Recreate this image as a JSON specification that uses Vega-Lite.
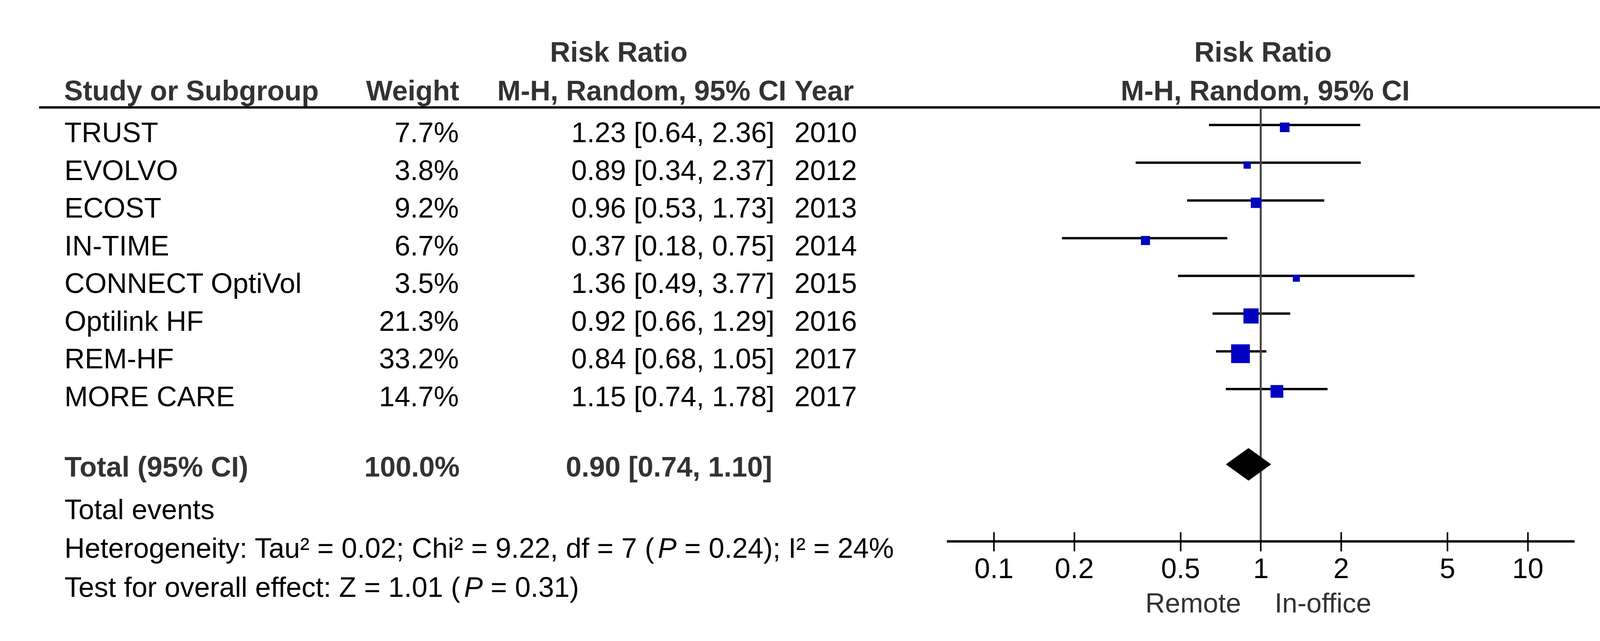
{
  "$schema": "https://vega.github.io/schema/vega-lite/v6.json",
  "padding": 0,
  "background": "white",
  "spacing": 0,
  "bounds": "flush",
  "config": {"view": {"stroke": null}, "font": "Liberation Sans", "text": {"font": "Liberation Sans"}},
  "datasets": {
    "studies": [
      {"study": "TRUST", "weight": 0.077, "rr": 1.23, "lo": 0.64, "hi": 2.36, "ci": "1.23 [0.64, 2.36]", "year": 2010},
      {"study": "EVOLVO", "weight": 0.038, "rr": 0.89, "lo": 0.34, "hi": 2.37, "ci": "0.89 [0.34, 2.37]", "year": 2012},
      {"study": "ECOST", "weight": 0.092, "rr": 0.96, "lo": 0.53, "hi": 1.73, "ci": "0.96 [0.53, 1.73]", "year": 2013},
      {"study": "IN-TIME", "weight": 0.067, "rr": 0.37, "lo": 0.18, "hi": 0.75, "ci": "0.37 [0.18, 0.75]", "year": 2014},
      {"study": "CONNECT OptiVol", "weight": 0.035, "rr": 1.36, "lo": 0.49, "hi": 3.77, "ci": "1.36 [0.49, 3.77]", "year": 2015},
      {"study": "Optilink HF", "weight": 0.213, "rr": 0.92, "lo": 0.66, "hi": 1.29, "ci": "0.92 [0.66, 1.29]", "year": 2016},
      {"study": "REM-HF", "weight": 0.332, "rr": 0.84, "lo": 0.68, "hi": 1.05, "ci": "0.84 [0.68, 1.05]", "year": 2017},
      {"study": "MORE CARE", "weight": 0.147, "rr": 1.15, "lo": 0.74, "hi": 1.78, "ci": "1.15 [0.74, 1.78]", "year": 2017}
    ],
    "total": [
      {"label": "Total (95% CI)", "weight": 1.0, "rr": 0.90, "lo": 0.74, "hi": 1.10, "ci": "0.90 [0.74, 1.10]"}
    ]
  },
  "hconcat": [
    {
      "width": 2424,
      "height": 1386,
      "resolve": {"scale": {"y": "independent"}},
      "layer": [
        {
          "data": {"values": [{}]},
          "mark": {"type": "rule", "color": "black", "strokeWidth": 6},
          "encoding": {
            "x": {"datum": 4.13, "type": "quantitative", "scale": {"domain": [0, 100], "nice": false, "zero": false}, "axis": null},
            "x2": {"datum": 100},
            "y": {"datum": 0.061, "type": "quantitative", "scale": {"domain": [-2.777, 11.526], "reverse": true, "nice": false, "zero": false}, "axis": null}
          }
        },
        {
          "data": {"values": [{}]},
          "mark": {"type": "text", "text": "Risk Ratio", "fontSize": 72, "fontWeight": "bold", "color": "#333333", "align": "center", "baseline": "alphabetic"},
          "encoding": {
            "x": {"datum": 65.35, "type": "quantitative", "scale": {"domain": [0, 100], "nice": false, "zero": false}, "axis": null},
            "y": {"datum": -1.147, "type": "quantitative", "scale": {"domain": [-2.777, 11.526], "reverse": true, "nice": false, "zero": false}, "axis": null}
          }
        },
        {
          "data": {"values": [{}]},
          "mark": {"type": "text", "text": "Study or Subgroup", "fontSize": 72, "fontWeight": "bold", "color": "#333333", "align": "left", "baseline": "alphabetic"},
          "encoding": {
            "x": {"datum": 6.77, "type": "quantitative", "scale": {"domain": [0, 100], "nice": false, "zero": false}, "axis": null},
            "y": {"datum": -0.125, "type": "quantitative", "scale": {"domain": [-2.777, 11.526], "reverse": true, "nice": false, "zero": false}, "axis": null}
          }
        },
        {
          "data": {"values": [{}]},
          "mark": {"type": "text", "text": "Weight", "fontSize": 72, "fontWeight": "bold", "color": "#333333", "align": "right", "baseline": "alphabetic"},
          "encoding": {
            "x": {"datum": 48.5, "type": "quantitative", "scale": {"domain": [0, 100], "nice": false, "zero": false}, "axis": null},
            "y": {"datum": -0.125, "type": "quantitative", "scale": {"domain": [-2.777, 11.526], "reverse": true, "nice": false, "zero": false}, "axis": null}
          }
        },
        {
          "data": {"values": [{}]},
          "mark": {"type": "text", "text": "M-H, Random, 95% CI", "fontSize": 72, "fontWeight": "bold", "color": "#333333", "align": "right", "baseline": "alphabetic"},
          "encoding": {
            "x": {"datum": 83.05, "type": "quantitative", "scale": {"domain": [0, 100], "nice": false, "zero": false}, "axis": null},
            "y": {"datum": -0.125, "type": "quantitative", "scale": {"domain": [-2.777, 11.526], "reverse": true, "nice": false, "zero": false}, "axis": null}
          }
        },
        {
          "data": {"values": [{}]},
          "mark": {"type": "text", "text": "Year", "fontSize": 72, "fontWeight": "bold", "color": "#333333", "align": "left", "baseline": "alphabetic"},
          "encoding": {
            "x": {"datum": 83.9, "type": "quantitative", "scale": {"domain": [0, 100], "nice": false, "zero": false}, "axis": null},
            "y": {"datum": -0.125, "type": "quantitative", "scale": {"domain": [-2.777, 11.526], "reverse": true, "nice": false, "zero": false}, "axis": null}
          }
        },
        {
          "data": {"name": "studies"},
          "mark": {"type": "text", "fontSize": 72, "color": "black", "align": "left", "baseline": "alphabetic"},
          "encoding": {
            "x": {"datum": 6.81, "type": "quantitative", "scale": {"domain": [0, 100], "nice": false, "zero": false}, "axis": null},
            "y": {"field": "study", "type": "nominal", "scale": {"type": "point", "domain": ["TRUST", "EVOLVO", "ECOST", "IN-TIME", "CONNECT OptiVol", "Optilink HF", "REM-HF", "MORE CARE"], "range": [364, 1040], "padding": 0}, "axis": null},
            "text": {"field": "study"}
          }
        },
        {
          "data": {"name": "studies"},
          "mark": {"type": "text", "fontSize": 72, "color": "black", "align": "right", "baseline": "alphabetic"},
          "encoding": {
            "x": {"datum": 48.45, "type": "quantitative", "scale": {"domain": [0, 100], "nice": false, "zero": false}, "axis": null},
            "y": {"field": "study", "type": "nominal", "scale": {"type": "point", "domain": ["TRUST", "EVOLVO", "ECOST", "IN-TIME", "CONNECT OptiVol", "Optilink HF", "REM-HF", "MORE CARE"], "range": [364, 1040], "padding": 0}, "axis": null},
            "text": {"field": "weight", "type": "quantitative", "format": ".1%"}
          }
        },
        {
          "data": {"name": "studies"},
          "mark": {"type": "text", "fontSize": 72, "color": "black", "align": "right", "baseline": "alphabetic"},
          "encoding": {
            "x": {"datum": 81.8, "type": "quantitative", "scale": {"domain": [0, 100], "nice": false, "zero": false}, "axis": null},
            "y": {"field": "study", "type": "nominal", "scale": {"type": "point", "domain": ["TRUST", "EVOLVO", "ECOST", "IN-TIME", "CONNECT OptiVol", "Optilink HF", "REM-HF", "MORE CARE"], "range": [364, 1040], "padding": 0}, "axis": null},
            "text": {"field": "ci"}
          }
        },
        {
          "data": {"name": "studies"},
          "mark": {"type": "text", "fontSize": 72, "color": "black", "align": "left", "baseline": "alphabetic"},
          "encoding": {
            "x": {"datum": 83.9, "type": "quantitative", "scale": {"domain": [0, 100], "nice": false, "zero": false}, "axis": null},
            "y": {"field": "study", "type": "nominal", "scale": {"type": "point", "domain": ["TRUST", "EVOLVO", "ECOST", "IN-TIME", "CONNECT OptiVol", "Optilink HF", "REM-HF", "MORE CARE"], "range": [364, 1040], "padding": 0}, "axis": null},
            "text": {"field": "year", "type": "quantitative", "format": "d"}
          }
        },
        {
          "data": {"name": "total"},
          "mark": {"type": "text", "fontSize": 72, "fontWeight": "bold", "color": "#333333", "align": "left", "baseline": "alphabetic"},
          "encoding": {
            "x": {"datum": 6.81, "type": "quantitative", "scale": {"domain": [0, 100], "nice": false, "zero": false}, "axis": null},
            "y": {"datum": 9.81, "type": "quantitative", "scale": {"domain": [-2.777, 11.526], "reverse": true, "nice": false, "zero": false}, "axis": null},
            "text": {"field": "label"}
          }
        },
        {
          "data": {"name": "total"},
          "mark": {"type": "text", "fontSize": 72, "fontWeight": "bold", "color": "#333333", "align": "right", "baseline": "alphabetic"},
          "encoding": {
            "x": {"datum": 48.55, "type": "quantitative", "scale": {"domain": [0, 100], "nice": false, "zero": false}, "axis": null},
            "y": {"datum": 9.81, "type": "quantitative", "scale": {"domain": [-2.777, 11.526], "reverse": true, "nice": false, "zero": false}, "axis": null},
            "text": {"field": "weight", "type": "quantitative", "format": ".1%"}
          }
        },
        {
          "data": {"name": "total"},
          "mark": {"type": "text", "fontSize": 72, "fontWeight": "bold", "color": "#333333", "align": "right", "baseline": "alphabetic"},
          "encoding": {
            "x": {"datum": 81.55, "type": "quantitative", "scale": {"domain": [0, 100], "nice": false, "zero": false}, "axis": null},
            "y": {"datum": 9.81, "type": "quantitative", "scale": {"domain": [-2.777, 11.526], "reverse": true, "nice": false, "zero": false}, "axis": null},
            "text": {"field": "ci"}
          }
        },
        {
          "data": {"values": [{}]},
          "mark": {"type": "text", "text": "Total events", "fontSize": 72, "color": "black", "align": "left", "baseline": "alphabetic"},
          "encoding": {
            "x": {"datum": 6.81, "type": "quantitative", "scale": {"domain": [0, 100], "nice": false, "zero": false}, "axis": null},
            "y": {"datum": 10.94, "type": "quantitative", "scale": {"domain": [-2.777, 11.526], "reverse": true, "nice": false, "zero": false}, "axis": null}
          }
        },
        {
          "data": {"values": [{}]},
          "mark": {"type": "text", "text": "Heterogeneity: Tau² = 0.02; Chi² = 9.22, df = 7 (", "fontSize": 72, "color": "black", "align": "left", "baseline": "alphabetic"},
          "encoding": {
            "x": {"datum": 6.81, "type": "quantitative", "scale": {"domain": [0, 100], "nice": false, "zero": false}, "axis": null},
            "y": {"datum": 11.96, "type": "quantitative", "scale": {"domain": [-2.777, 11.526], "reverse": true, "nice": false, "zero": false}, "axis": null}
          }
        },
        {
          "data": {"values": [{}]},
          "mark": {"type": "text", "text": "P", "fontStyle": "italic", "dx": 1519, "fontSize": 72, "color": "black", "align": "left", "baseline": "alphabetic"},
          "encoding": {
            "x": {"datum": 6.81, "type": "quantitative", "scale": {"domain": [0, 100], "nice": false, "zero": false}, "axis": null},
            "y": {"datum": 11.96, "type": "quantitative", "scale": {"domain": [-2.777, 11.526], "reverse": true, "nice": false, "zero": false}, "axis": null}
          }
        },
        {
          "data": {"values": [{}]},
          "mark": {"type": "text", "text": "= 0.24); I² = 24%", "dx": 1587, "fontSize": 72, "color": "black", "align": "left", "baseline": "alphabetic"},
          "encoding": {
            "x": {"datum": 6.81, "type": "quantitative", "scale": {"domain": [0, 100], "nice": false, "zero": false}, "axis": null},
            "y": {"datum": 11.96, "type": "quantitative", "scale": {"domain": [-2.777, 11.526], "reverse": true, "nice": false, "zero": false}, "axis": null}
          }
        },
        {
          "data": {"values": [{}]},
          "mark": {"type": "text", "text": "Test for overall effect: Z = 1.01 (", "fontSize": 72, "color": "black", "align": "left", "baseline": "alphabetic"},
          "encoding": {
            "x": {"datum": 6.81, "type": "quantitative", "scale": {"domain": [0, 100], "nice": false, "zero": false}, "axis": null},
            "y": {"datum": 12.99, "type": "quantitative", "scale": {"domain": [-2.777, 11.526], "reverse": true, "nice": false, "zero": false}, "axis": null}
          }
        },
        {
          "data": {"values": [{}]},
          "mark": {"type": "text", "text": "P", "fontStyle": "italic", "dx": 1023, "fontSize": 72, "color": "black", "align": "left", "baseline": "alphabetic"},
          "encoding": {
            "x": {"datum": 6.81, "type": "quantitative", "scale": {"domain": [0, 100], "nice": false, "zero": false}, "axis": null},
            "y": {"datum": 12.99, "type": "quantitative", "scale": {"domain": [-2.777, 11.526], "reverse": true, "nice": false, "zero": false}, "axis": null}
          }
        },
        {
          "data": {"values": [{}]},
          "mark": {"type": "text", "text": "= 0.31)", "dx": 1091, "fontSize": 72, "color": "black", "align": "left", "baseline": "alphabetic"},
          "encoding": {
            "x": {"datum": 6.81, "type": "quantitative", "scale": {"domain": [0, 100], "nice": false, "zero": false}, "axis": null},
            "y": {"datum": 12.99, "type": "quantitative", "scale": {"domain": [-2.777, 11.526], "reverse": true, "nice": false, "zero": false}, "axis": null}
          }
        }
      ]
    },
    {
      "width": 1607,
      "height": 1386,
      "resolve": {"scale": {"y": "independent"}},
      "encoding": {
        "x": {
          "type": "quantitative",
          "scale": {"type": "log", "domain": [0.0667, 15], "nice": false},
          "axis": {"values": [0.1, 0.2, 0.5, 1, 2, 5, 10], "format": "~g", "orient": "bottom", "domain": false, "grid": false, "ticks": true, "tickSize": 49, "tickWidth": 4, "tickColor": "black", "offset": -24, "labelFontSize": 72, "labelFont": "Liberation Sans", "labelColor": "black", "labelPadding": 11, "labelFlush": false, "labelOverlap": false, "title": null}
        }
      },
      "layer": [
        {
          "data": {"name": "studies"},
          "mark": {"type": "rule", "color": "black", "strokeWidth": 6, "yOffset": -44},
          "encoding": {
            "x": {"field": "lo", "type": "quantitative"},
            "x2": {"field": "hi"},
            "y": {"field": "study", "type": "nominal", "scale": {"type": "point", "domain": ["TRUST", "EVOLVO", "ECOST", "IN-TIME", "CONNECT OptiVol", "Optilink HF", "REM-HF", "MORE CARE"], "range": [364, 1040], "padding": 0}, "axis": null}
          }
        },
        {
          "data": {"values": [{}]},
          "mark": {"type": "rule", "color": "black", "strokeWidth": 6},
          "encoding": {
            "x": {"datum": 0.0667, "type": "quantitative"},
            "x2": {"datum": 19.1},
            "y": {"datum": 0.061, "type": "quantitative", "scale": {"domain": [-2.777, 11.526], "reverse": true, "nice": false, "zero": false}, "axis": null}
          }
        },
        {
          "data": {"values": [{}]},
          "mark": {"type": "rule", "color": "#444444", "strokeWidth": 5},
          "encoding": {
            "x": {"datum": 1, "type": "quantitative"},
            "y": {"datum": 0.061, "type": "quantitative", "scale": {"domain": [-2.777, 11.526], "reverse": true, "nice": false, "zero": false}, "axis": null},
            "y2": {"datum": 11.526}
          }
        },
        {
          "data": {"values": [{}]},
          "mark": {"type": "rule", "color": "black", "strokeWidth": 6},
          "encoding": {
            "x": {"datum": 0.0667, "type": "quantitative"},
            "x2": {"datum": 15},
            "y": {"datum": 11.526, "type": "quantitative", "scale": {"domain": [-2.777, 11.526], "reverse": true, "nice": false, "zero": false}, "axis": null}
          }
        },
        {
          "data": {"name": "studies"},
          "mark": {"type": "square", "filled": true, "color": "#0000c0", "opacity": 1, "yOffset": -38},
          "encoding": {
            "x": {"field": "rr", "type": "quantitative"},
            "y": {"field": "study", "type": "nominal", "scale": {"type": "point", "domain": ["TRUST", "EVOLVO", "ECOST", "IN-TIME", "CONNECT OptiVol", "Optilink HF", "REM-HF", "MORE CARE"], "range": [364, 1040], "padding": 0}, "axis": null},
            "size": {"field": "weight", "type": "quantitative", "scale": {"domain": [0.035, 0.332], "range": [324, 2304]}, "legend": null}
          }
        },
        {
          "data": {"name": "total"},
          "mark": {"type": "point", "shape": "M-1,0L0,-0.72L1,0L0,0.72Z", "filled": true, "color": "black", "opacity": 1, "size": 13456, "yOffset": -31},
          "encoding": {
            "x": {"field": "rr", "type": "quantitative"},
            "y": {"datum": 9.81, "type": "quantitative", "scale": {"domain": [-2.777, 11.526], "reverse": true, "nice": false, "zero": false}, "axis": null}
          }
        },
        {
          "data": {"values": [{}]},
          "mark": {"type": "text", "text": "Risk Ratio", "fontSize": 72, "fontWeight": "bold", "color": "#333333", "align": "center", "baseline": "alphabetic"},
          "encoding": {
            "x": {"datum": 1.02, "type": "quantitative"},
            "y": {"datum": -1.147, "type": "quantitative", "scale": {"domain": [-2.777, 11.526], "reverse": true, "nice": false, "zero": false}, "axis": null}
          }
        },
        {
          "data": {"values": [{}]},
          "mark": {"type": "text", "text": "M-H, Random, 95% CI", "fontSize": 72, "fontWeight": "bold", "color": "#333333", "align": "center", "baseline": "alphabetic"},
          "encoding": {
            "x": {"datum": 1.04, "type": "quantitative"},
            "y": {"datum": -0.125, "type": "quantitative", "scale": {"domain": [-2.777, 11.526], "reverse": true, "nice": false, "zero": false}, "axis": null}
          }
        },
        {
          "data": {"values": [{}]},
          "mark": {"type": "text", "text": "Remote", "fontSize": 70, "color": "#333333", "align": "right", "baseline": "alphabetic"},
          "encoding": {
            "x": {"datum": 0.844, "type": "quantitative"},
            "y": {"datum": 13.4, "type": "quantitative", "scale": {"domain": [-2.777, 11.526], "reverse": true, "nice": false, "zero": false}, "axis": null}
          }
        },
        {
          "data": {"values": [{}]},
          "mark": {"type": "text", "text": "In-office", "fontSize": 70, "color": "#333333", "align": "left", "baseline": "alphabetic"},
          "encoding": {
            "x": {"datum": 1.127, "type": "quantitative"},
            "y": {"datum": 13.4, "type": "quantitative", "scale": {"domain": [-2.777, 11.526], "reverse": true, "nice": false, "zero": false}, "axis": null}
          }
        }
      ]
    }
  ]
}
